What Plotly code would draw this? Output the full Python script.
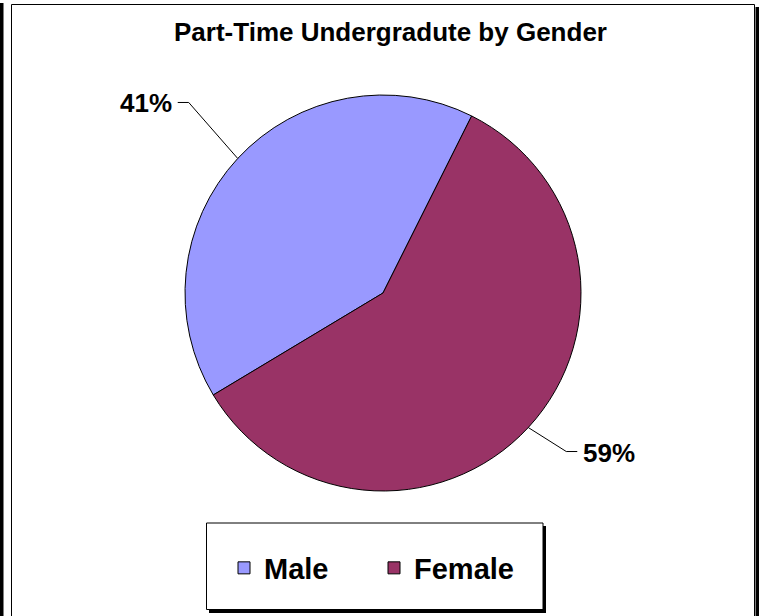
import math
import plotly.graph_objects as go

# ---- data ----
labels = ["Male", "Female"]
values = [41, 59]
colors = ["#9999FF", "#993366"]
title_text = "Part-Time Undergradute by Gender"

# ---- layout constants (pixels) ----
W, H = 765, 616
CX, CY, R = 383, 293, 198          # pie centre and radius
ROTATION = 239                       # start angle of first slice (clockwise from 12 o'clock)
label_offset = [(-49, -56), (38, 24)]  # elbow of leader line relative to slice edge point
FONT = "Liberation Sans, Arial, Helvetica, sans-serif"


def px(x):
    return x / W


def py(y):
    return 1 - y / H


fig = go.Figure()
fig.add_trace(go.Pie(
    labels=labels,
    values=values,
    marker=dict(colors=colors, line=dict(color="#000000", width=1)),
    sort=False,
    direction="clockwise",
    rotation=ROTATION,
    textinfo="none",
    hoverinfo="label+percent",
    domain=dict(x=[px(CX - R), px(CX + R)], y=[py(CY + R), py(CY - R)]),
))

shapes = []
# left neighbouring shadow bar
shapes.append(dict(type="rect", xref="paper", yref="paper", x0=px(0), x1=px(3.5),
                   y0=py(H + 5), y1=py(3), fillcolor="#000000", line=dict(width=0)))
# chart frame shadow (right)
shapes.append(dict(type="rect", xref="paper", yref="paper", x0=px(755.5), x1=px(759),
                   y0=py(H + 5), y1=py(7), fillcolor="#000000", line=dict(width=0)))
# chart frame
shapes.append(dict(type="rect", xref="paper", yref="paper", x0=px(11.5), x1=px(754.5),
                   y0=py(H + 5), y1=py(4.5), fillcolor="rgba(0,0,0,0)",
                   line=dict(color="#000000", width=1)))
# legend box shadow + box
shapes.append(dict(type="rect", xref="paper", yref="paper", x0=px(209), x1=px(546),
                   y0=py(613), y1=py(526), fillcolor="#000000", line=dict(width=0)))
shapes.append(dict(type="rect", xref="paper", yref="paper", x0=px(206.5), x1=px(543),
                   y0=py(609.5), y1=py(523), fillcolor="#FFFFFF",
                   line=dict(color="#000000", width=1)))

annotations = []
total = sum(values)
cum = 0
for i, v in enumerate(values):
    mid = math.radians(ROTATION + (cum + v / 2) / total * 360)
    cum += v
    sx, sy = math.sin(mid), -math.cos(mid)
    ex, ey = CX + R * sx, CY + R * sy
    bx, by = ex + label_offset[i][0], ey + label_offset[i][1]
    side = 1 if sx > 0 else -1
    hx = bx + side * 11
    shapes.append(dict(type="path", xref="paper", yref="paper",
                       path=f"M {px(ex)} {py(ey)} L {px(bx)} {py(by)} L {px(hx)} {py(by)}",
                       line=dict(color="#000000", width=1)))
    annotations.append(dict(
        text=f"<b>{round(v / total * 100)}%</b>", xref="paper", yref="paper",
        x=px(hx + side * 4), y=py(by + 1), xanchor="left" if side > 0 else "right",
        yanchor="middle", showarrow=False,
        font=dict(family=FONT, size=26, color="#000000"),
    ))

fig.update_layout(
    width=W, height=H, autosize=False,
    margin=dict(l=0, r=0, t=0, b=0),
    paper_bgcolor="#FFFFFF", plot_bgcolor="#FFFFFF",
    title=dict(text=f"<b>{title_text}</b>", x=px(390.5), xanchor="center",
               y=py(32), yanchor="middle",
               font=dict(family=FONT, size=26, color="#000000")),
    showlegend=True,
    legend=dict(orientation="h", x=px(224), xanchor="left", y=py(568), yanchor="middle",
                bgcolor="rgba(0,0,0,0)", borderwidth=0,
                font=dict(family=FONT, size=29, color="#000000", weight="bold"),
                entrywidth=105, entrywidthmode="pixels", itemclick=False),
    shapes=shapes,
    annotations=annotations,
)

fig.write_html("out.html", config={"displayModeBar": False},
               post_script="document.body.style.margin='0px';")
